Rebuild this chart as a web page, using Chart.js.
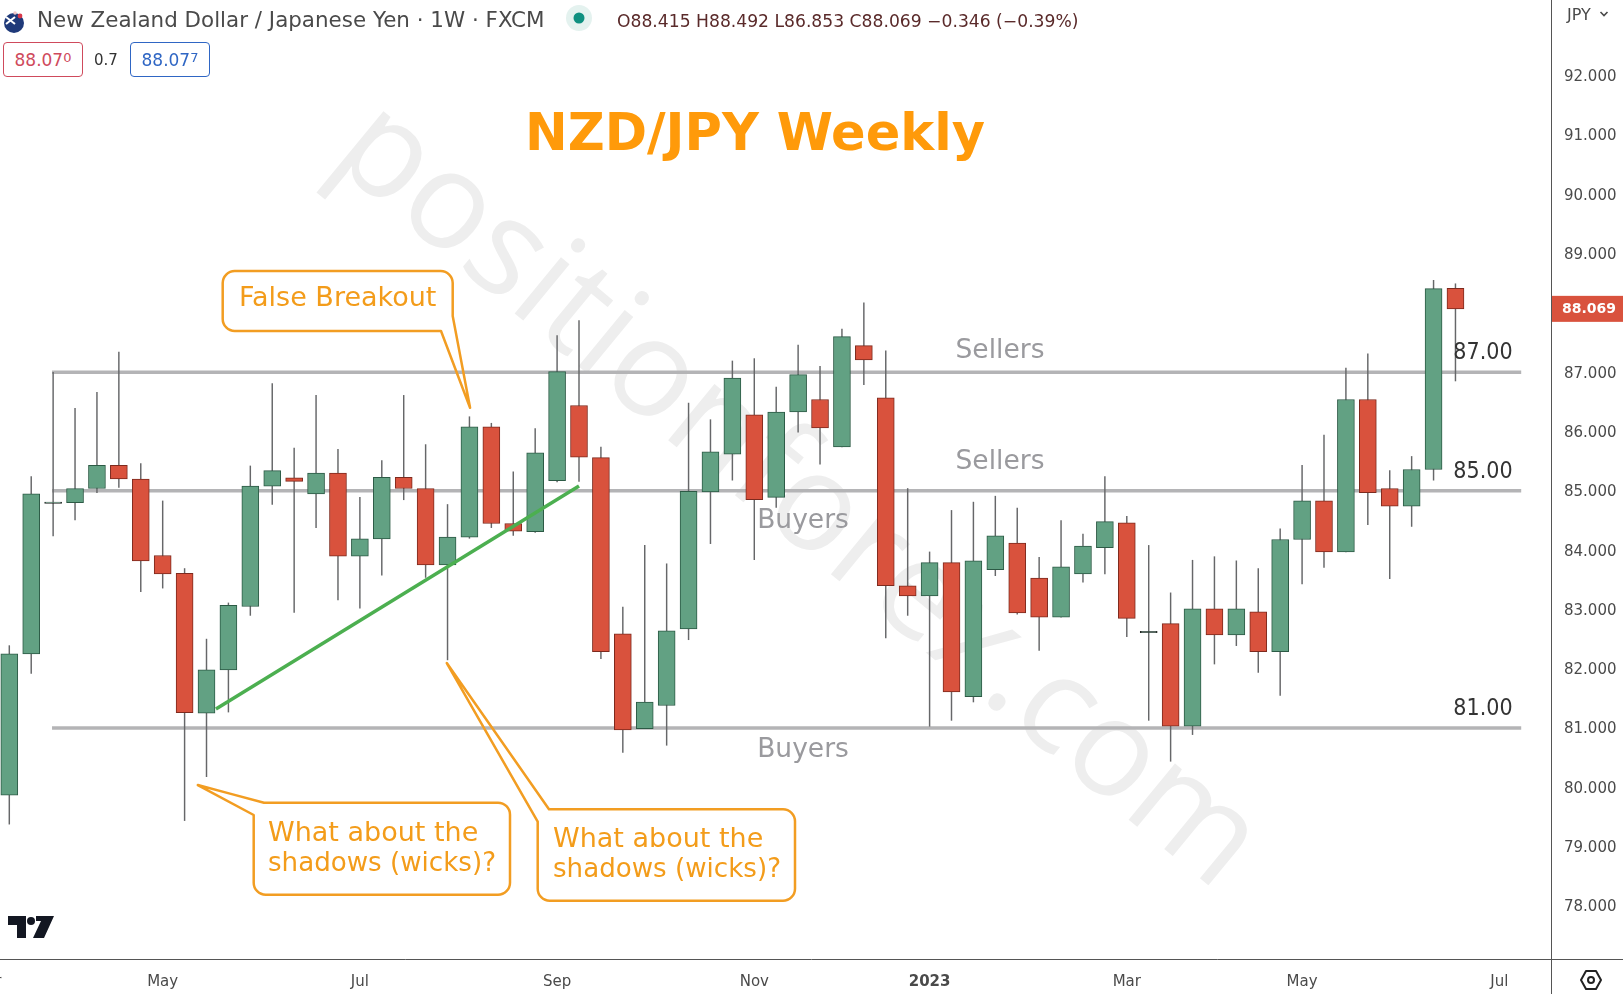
<!DOCTYPE html>
<html>
<head>
<meta charset="utf-8">
<title>NZD/JPY Weekly</title>
<script src="https://cdn.jsdelivr.net/npm/chart.js@4"></script>
<style>
  html, body { margin: 0; padding: 0; background: #fff; }
  #wrap { position: relative; width: 1623px; height: 994px; overflow: hidden; font-family: "DejaVu Sans", sans-serif; }
  canvas { position: absolute; left: 0; top: 0; }
  .lbl { position: absolute; white-space: nowrap; line-height: 1; }
  .chip { position: absolute; top: 42px; height: 35px; width: 80px; box-sizing: border-box; border: 1px solid; border-radius: 4px; text-align: center; line-height: 34px; font-size: 17px; background: #fff; }
  .chip sup { font-size: 13px; vertical-align: 4px; line-height: 0; }
  svg { position: absolute; }
</style>
</head>
<body>
<div id="wrap">
  <canvas id="chart" width="1623" height="994"></canvas>

  <svg style="left:3px;top:9px" width="22" height="26" viewBox="0 0 22 26">
    <circle cx="11" cy="14" r="10" fill="#1f3a7a"/>
    <path d="M3 8 L12 15 M12 8 L3 15" stroke="#fff" stroke-width="2"/>
    <circle cx="17" cy="7" r="2.4" fill="#d8384a"/>
    <circle cx="12" cy="4" r="1.8" fill="#f0c8c8"/>
  </svg>
  <div class="lbl" style="left:37px;top:10px;font-size:21px;color:#4a4a4a;transform-origin:0 0;transform:scaleX(1.02)">New Zealand Dollar / Japanese Yen · 1W · FXCM</div>
  <svg style="left:566px;top:5px" width="26" height="26"><circle cx="13" cy="13" r="13" fill="#e4f2ef"/><circle cx="13" cy="13" r="5.5" fill="#0f9080"/></svg>
  <div class="lbl" style="left:617px;top:13px;font-size:17px;color:#5a2a2a;transform-origin:0 0;transform:scaleX(1.01)">O88.415 H88.492 L86.853 C88.069 −0.346 (−0.39%)</div>

  <div class="chip" style="left:3px;color:#cf4a5c;border-color:#cf4a5c">88.07<sup>0</sup></div>
  <div class="lbl" style="left:94px;top:53px;font-size:15px;color:#333">0.7</div>
  <div class="chip" style="left:130px;color:#2f66c4;border-color:#2f66c4">88.07<sup>7</sup></div>

  <div class="lbl" id="title" style="left:525px;top:107px;font-size:51px;font-weight:bold;color:#ff9a0a">NZD/JPY Weekly</div>

  <div class="lbl" style="left:1567px;top:7px;font-size:16px;color:#4a4a4a">JPY</div>
  <svg style="left:1599px;top:10px" width="10" height="8"><path d="M1.5 2 L5 5.5 L8.5 2" fill="none" stroke="#4a4a4a" stroke-width="1.6"/></svg>

  <svg style="left:8px;top:916px" width="46" height="23" viewBox="0 0 46 23">
    <path d="M0 0 H18 V22 H9 V9 H0 Z M28 0 H46 L36 22 H25 L33 5 H28 Z" fill="#131722"/>
    <circle cx="23" cy="5" r="4" fill="#131722"/>
  </svg>
  <svg style="left:1579px;top:969px" width="24" height="22" viewBox="0 0 24 22">
    <path d="M7 2 H17 L22 11 L17 20 H7 L2 11 Z" fill="none" stroke="#222" stroke-width="2" stroke-linejoin="round"/>
    <circle cx="12" cy="11" r="3" fill="none" stroke="#222" stroke-width="2"/>
  </svg>
</div>

<script>
// weekly candles, oldest first
const opens  = [79.87,82.25,84.79,84.80,85.04,85.43,85.20,83.91,83.61,81.25,81.98,83.05,85.08,85.22,84.95,85.30,83.90,84.19,85.23,85.04,83.75,84.22,86.08,84.45,84.31,85.17,86.44,85.56,82.59,80.99,81.38,82.67,84.98,85.62,86.28,84.89,86.33,86.54,85.74,87.45,86.57,83.40,83.23,83.79,81.53,83.67,84.12,83.53,82.87,83.60,84.04,84.46,82.61,82.76,81.03,83.01,82.57,82.96,82.29,84.18,84.83,83.97,86.54,85.04,84.74,85.36,88.415];
const closes = [82.25,84.95,84.81,85.04,85.43,85.20,83.82,83.60,81.26,81.98,83.07,85.08,85.34,85.16,85.30,83.90,84.19,85.23,85.04,83.75,84.22,86.08,84.45,84.32,85.64,87.01,85.57,82.29,80.97,81.44,82.64,84.99,85.66,86.90,84.85,86.33,86.96,86.06,87.60,87.21,83.40,83.23,83.79,81.61,83.82,84.24,82.94,82.87,83.72,84.07,84.48,82.85,82.63,81.03,83.01,82.57,83.01,82.29,84.18,84.83,83.97,86.54,84.97,84.74,85.36,88.41,88.069];
const highs  = [82.39,85.24,87.00,86.39,86.66,87.34,85.46,84.83,83.69,82.50,83.11,85.42,86.81,85.72,86.61,85.70,84.89,85.51,86.61,85.78,84.77,86.25,86.14,85.32,86.05,87.62,87.87,85.74,83.04,84.08,83.77,86.48,86.20,87.19,87.23,86.75,87.46,87.10,87.73,88.17,87.36,85.04,83.97,84.67,84.81,84.91,84.71,83.88,84.50,84.27,85.24,84.57,84.08,83.28,83.83,83.89,83.82,83.69,84.36,85.43,85.94,87.07,87.31,85.34,85.58,88.55,88.492];
const lows   = [79.38,81.92,84.24,84.51,84.97,85.06,83.30,83.36,79.44,80.18,81.27,82.90,84.77,82.95,84.38,83.16,83.02,83.58,84.85,83.54,82.15,84.20,84.38,84.25,84.30,85.15,85.16,82.17,80.59,80.99,80.71,82.49,84.11,85.18,83.84,84.72,85.99,85.45,85.74,86.79,82.52,82.90,81.03,81.13,81.44,83.57,82.92,82.31,82.87,83.46,83.60,82.54,81.13,80.44,80.89,82.08,82.39,81.94,81.55,83.43,83.71,83.97,84.43,83.52,84.40,85.18,86.853];

// month labels on the time axis, as candle numbers
const monthWeeks  = [-1,7,16,25,34,42,51,59,68];
const monthLabels = ['Mar','May','Jul','Sep','Nov','2023','Mar','May','Jul'];

// price axis
const priceTicks = [78,79,80,81,82,83,84,85,86,87,88,89,90,91,92];

// horizontal levels drawn by hand on the chart
const levels      = [87,85,81];
const levelLabels = ['87.00','85.00','81.00'];
const levelFrom   = 1.95;
const levelTo     = 69;

// rising trend line under the lows
const trendWeeks  = [9.43,26];
const trendPrices = [81.32,85.08];

const UP = '#62a183', UP_EDGE = '#2c5a45', DOWN = '#d9523d', DOWN_EDGE = '#7d2a1e', DOJI = '#222222', WICK = '#666769', ORANGE = '#f29d22';

const weeks = opens.map((_, i) => i);
const isUp = i => closes[i] >= opens[i];
const isDoji = i => Math.abs(closes[i] - opens[i]) < 0.03;

function noPadding(s) {
    s.paddingLeft = s.paddingRight = s.paddingTop = s.paddingBottom = 0;
}

function roundedPoly(ctx, pts) {
    ctx.beginPath();
    const n = pts.length;
    ctx.moveTo((pts[n - 1][0] + pts[0][0]) / 2, (pts[n - 1][1] + pts[0][1]) / 2);
    pts.forEach((p, i) => {
        const next = pts[(i + 1) % n];
        ctx.arcTo(p[0], p[1], next[0], next[1], p[2] || 0.01);
    });
    ctx.closePath();
}

function calloutText(ctx, lines, x, ys) {
    ctx.fillStyle = '#f39c1a';
    ctx.font = '27px "DejaVu Sans"';
    ctx.textAlign = 'left';
    ctx.textBaseline = 'middle';
    lines.forEach((t, i) => ctx.fillText(t, x, ys[i], 228));
}

const decorations = {
    id: 'decorations',
    beforeDatasetsDraw(chart) {
        const ctx = chart.ctx;
        ctx.save();
        ctx.translate(353, 130);
        ctx.rotate(39.5 * Math.PI / 180);
        ctx.font = '136px "Open Sans"';
        ctx.fillStyle = '#eeeeee';
        ctx.textAlign = 'left';
        ctx.textBaseline = 'middle';
        ctx.fillText('positionforex.com', 0, 0);
        ctx.restore();
    },
    afterDatasetsDraw(chart) {
        const ctx = chart.ctx, x = chart.scales.x, y = chart.scales.y, area = chart.chartArea;
        ctx.save();

        // axis frame
        ctx.strokeStyle = '#555';
        ctx.lineWidth = 1;
        ctx.beginPath();
        ctx.moveTo(area.right + 0.5, 0);
        ctx.lineTo(area.right + 0.5, 994);
        ctx.moveTo(0, area.bottom + 0.5);
        ctx.lineTo(1623, area.bottom + 0.5);
        ctx.stroke();

        // words on the levels
        ctx.font = '26px "DejaVu Sans"';
        ctx.fillStyle = '#9a9a9e';
        ctx.textAlign = 'center';
        ctx.textBaseline = 'middle';
        [['Sellers', 1000, 87, -21], ['Sellers', 1000, 85, -29], ['Buyers', 803, 85, 30], ['Buyers', 803, 81, 22]].forEach(w => {
            ctx.save();
            ctx.translate(w[1], y.getPixelForValue(w[2]) + w[3]);
            ctx.scale(1.02, 1);
            ctx.fillText(w[0], 0, 0);
            ctx.restore();
        });

        ctx.font = '23px "DejaVu Sans"';
        ctx.fillStyle = '#333';
        levels.forEach((v, i) => {
            ctx.save();
            ctx.translate(1483, y.getPixelForValue(v) - 19);
            ctx.scale(0.9, 1);
            ctx.fillText(levelLabels[i], 0, 0);
            ctx.restore();
        });

        // last price tag on the axis
        const last = y.getPixelForValue(closes[closes.length - 1]);
        ctx.fillStyle = DOWN;
        ctx.fillRect(area.right + 1, last - 13, 1623 - area.right, 26);
        ctx.fillStyle = '#fff';
        ctx.font = 'bold 14px "DejaVu Sans"';
        ctx.fillText(closes[closes.length - 1].toFixed(3), 1589, last + 0.5);

        // callouts, boxes in canvas pixels, tips on the data
        ctx.strokeStyle = ORANGE;
        ctx.lineWidth = 2.5;
        ctx.lineJoin = 'round';
        roundedPoly(ctx, [
            [222.7, 271, 12], [452.7, 271, 12], [452.7, 316, 0],
            [x.getPixelForValue(21.03), y.getPixelForValue(86.4), 0],
            [441, 331, 0], [222.7, 331, 12]
        ]);
        ctx.stroke();
        roundedPoly(ctx, [
            [264, 802.7, 0], [510, 802.7, 12], [510, 894.7, 12], [253.7, 894.7, 12],
            [253.7, 815, 0], [x.getPixelForValue(8.6), y.getPixelForValue(80.04), 0]
        ]);
        ctx.stroke();
        roundedPoly(ctx, [
            [549, 809.3, 0], [795, 809.3, 12], [795, 900.7, 12], [537.7, 900.7, 12],
            [537.7, 821.7, 0], [x.getPixelForValue(19.96), y.getPixelForValue(82.1), 0]
        ]);
        ctx.stroke();

        calloutText(ctx, ['False Breakout'], 239, [299]);
        calloutText(ctx, ['What about the', 'shadows (wicks)?'], 268, [834, 864]);
        calloutText(ctx, ['What about the', 'shadows (wicks)?'], 553, [840, 870]);
        ctx.restore();
    }
};

new Chart(document.getElementById('chart'), {
    type: 'bar',
    data: {
        datasets: [
            {
                type: 'line',
                label: 'Trend',
                order: 0,
                data: trendWeeks.map((w, i) => ({ x: w, y: trendPrices[i] })),
                borderColor: '#4caf50',
                borderWidth: 3.5,
                pointRadius: 0
            },
            {
                label: 'Body',
                order: 1,
                grouped: false,
                barThickness: 17,
                data: weeks.map(i => ({ x: i, y: [opens[i], closes[i]] })),
                backgroundColor: weeks.map(i => isUp(i) ? UP : DOWN),
                borderColor: weeks.map(i => isDoji(i) ? DOJI : (isUp(i) ? UP_EDGE : DOWN_EDGE)),
                borderWidth: 1,
                borderSkipped: false
            },
            {
                label: 'Wick',
                order: 2,
                grouped: false,
                barThickness: 0.8,
                data: weeks.map(i => ({ x: i, y: [lows[i], highs[i]] })),
                backgroundColor: WICK
            },
            ...levels.map((v, i) => ({
                type: 'line',
                label: levelLabels[i],
                order: 3,
                data: [{ x: levelFrom, y: v }, { x: levelTo, y: v }],
                borderColor: '#b4b4b6',
                borderWidth: 3.5,
                pointRadius: 0
            }))
        ]
    },
    plugins: [decorations],
    options: {
        responsive: false,
        animation: false,
        devicePixelRatio: 1,
        layout: { autoPadding: false, padding: 0 },
        plugins: { legend: { display: false }, tooltip: { enabled: false } },
        scales: {
            x: {
                type: 'linear',
                offset: false,
                min: -0.4245,
                max: 70.36,
                grid: { display: false },
                border: { display: false },
                afterFit: s => { s.height = 35; noPadding(s); },
                afterBuildTicks: s => { s.ticks = monthWeeks.map(v => ({ value: v })); },
                ticks: {
                    autoSkip: false,
                    maxRotation: 0,
                    padding: 6,
                    color: '#4a4a4a',
                    font: c => ({ family: '"DejaVu Sans"', size: 15, weight: monthLabels[c.index] === '2023' ? 'bold' : 'normal' }),
                    callback: (v, i) => monthLabels[i]
                }
            },
            y: {
                position: 'right',
                min: 77.106,
                max: 93.277,
                grid: { display: false },
                border: { display: false },
                afterFit: s => { s.width = 72; noPadding(s); },
                afterBuildTicks: s => { s.ticks = priceTicks.map(v => ({ value: v })); },
                ticks: {
                    autoSkip: false,
                    padding: 5,
                    labelOffset: 1.5,
                    color: '#4a4a4a',
                    font: { family: '"DejaVu Sans"', size: 15 },
                    callback: v => v.toFixed(3)
                }
            }
        }
    }
});
</script>
</body>
</html>
